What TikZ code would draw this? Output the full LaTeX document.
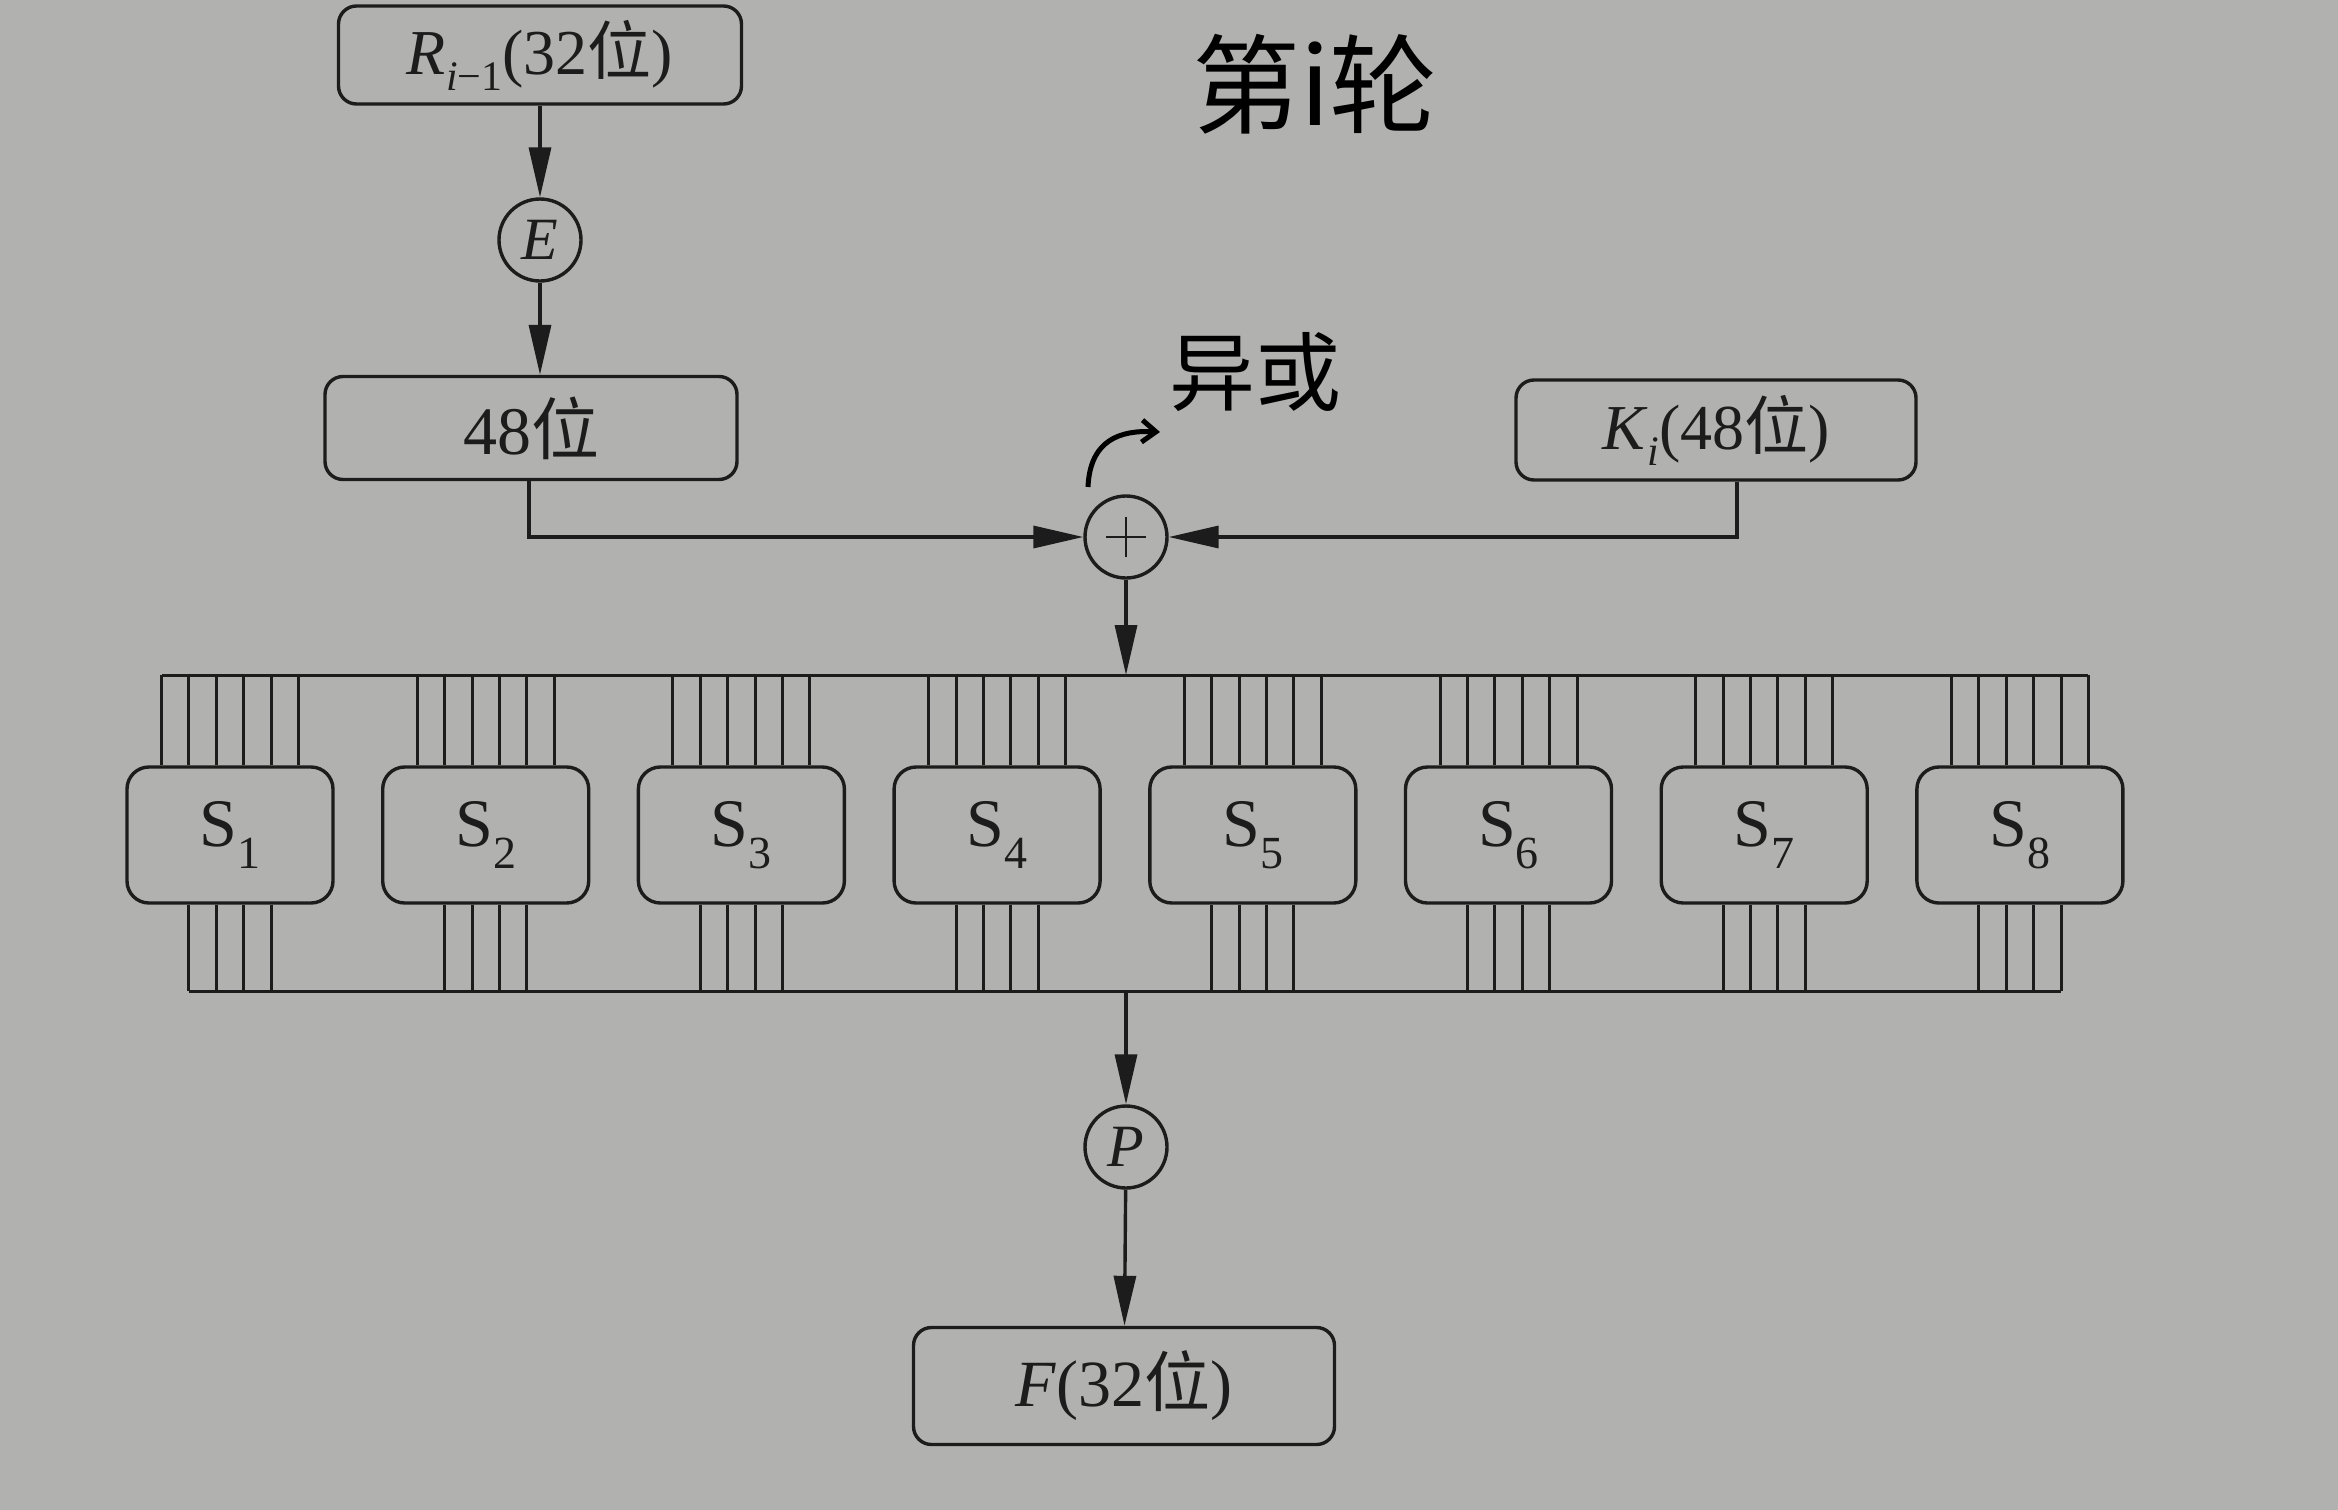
\documentclass[tikz,border=0pt]{standalone}
\usepackage{fontspec}
\setmainfont{Liberation Serif}
\newfontfamily\cjkf{Noto Sans CJK SC}
\usetikzlibrary{arrows.meta}
\definecolor{paper}{RGB}{177,177,175}
\definecolor{ink}{RGB}{28,28,28}
\newcommand{\wei}{{\cjkf 位}}
\newcommand{\lowsub}[1]{\raisebox{-0.32em}{\fontsize{46}{46}\selectfont #1}}
\newcommand{\msub}[1]{\raisebox{-0.25em}{\fontsize{42}{42}\selectfont #1}}
\begin{document}
\begin{tikzpicture}[x=1pt,y=-1pt,line width=3.4pt,draw=ink,text=ink,
  box/.style={draw,rounded corners=18pt,inner sep=0pt,font=\fontsize{64}{66}\selectfont},
  sbox/.style={draw,rounded corners=22pt,inner sep=0pt,minimum width=206pt,minimum height=136pt,font=\fontsize{68}{70}\selectfont},
  op/.style={draw,circle,inner sep=0pt,minimum size=82pt,font=\fontsize{60}{62}\selectfont},
  arr/.style={-{Triangle[length=50pt,width=22pt]}},
  wire/.style={line width=3pt},
  hand/.style={font=\cjkf\fontsize{86}{86}\selectfont,text=black}]
\fill[paper] (0,0) rectangle (2338,1510);
\useasboundingbox (0,0) rectangle (2338,1510);

% main chain
\node[box,minimum width=403pt,minimum height=98pt] (R) at (540,55) {\textit{R}\msub{\textit{i}\char"2212 1}(32\wei)};
\node[op] (E) at (540,240) {\textit{E}};
\node[box,minimum width=412pt,minimum height=103pt,font=\fontsize{68}{70}\selectfont] (B48) at (531,428) {48\wei};
\node[op] (X) at (1126,537) {};
\draw[line width=2.8pt] ([xshift=-20pt]X.center) -- ([xshift=20pt]X.center);
\draw[line width=2.8pt] ([yshift=-20pt]X.center) -- ([yshift=20pt]X.center);
\node[box,minimum width=400pt,minimum height=100pt] (K) at (1716,430) {\textit{K}\msub{\textit{i}}(48\wei)};
\node[op] (P) at (1126,1147) {\textit{P}};
\node[box,minimum width=421pt,minimum height=117pt,font=\fontsize{66}{68}\selectfont] (F) at (1124,1386) {\textit{F}(32\wei)};

\coordinate (tb) at (1126,675);
\coordinate (bb) at (1126,991);

% S boxes with wires
\foreach \k in {1,...,8}{
  \node[sbox] (S\k) at ({230+(\k-1)*255.7},835) {S\lowsub{\k}};
  \foreach \j in {0,...,5}{
    \coordinate (a) at ([xshift={(\j-2.5)*27.4pt}]S\k.north);
    \draw[wire] (a) -- (a |- tb);
  }
  \foreach \j in {0,...,3}{
    \coordinate (b) at ([xshift={(\j-1.5)*27.4pt}]S\k.south);
    \draw[wire] (b) -- (b |- bb);
  }
}
\coordinate (tl) at ([xshift=-68.5pt]S1.north);
\coordinate (tr) at ([xshift=68.5pt]S8.north);
\coordinate (bl) at ([xshift=-41.1pt]S1.south);
\coordinate (br) at ([xshift=41.1pt]S8.south);
\draw[wire] (tl |- tb) -- (tr |- tb);
\draw[wire] (bl |- bb) -- (br |- bb);

% connectors
\draw[arr] (R.south -| E) -- (E);
\draw[arr] (E) -- (B48.north -| E);
\draw[arr] ([xshift=-2pt]B48.south) |- (X);
\draw[arr] ([xshift=21pt]K.south) |- (X);
\draw[arr] (X) -- (tb);
\draw[arr] (bb) -- (P);
\draw[arr] (P) -- (F);

% handwritten notes
\node[hand,font=\cjkf\fontsize{108}{108}\selectfont] (note1) at (1315,84) {第i轮};
\node[hand] (note2) at (1255,372) {异或};
\coordinate (hs) at (1088,487);
\draw[line width=5pt,black,-{Straight Barb[length=14pt,width=22pt]}] (hs) .. controls (1090,440) and (1120,430) .. (1160,432);
\end{tikzpicture}
\end{document}
